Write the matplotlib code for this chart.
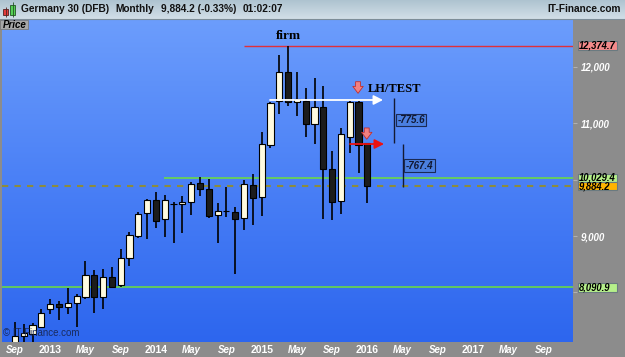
import numpy as np
import matplotlib
matplotlib.use('Agg')
import matplotlib.pyplot as plt
from matplotlib.colors import LinearSegmentedColormap
from matplotlib.patches import Rectangle
from matplotlib.transforms import blended_transform_factory

plt.rcParams['font.family'] = ['Liberation Sans', 'DejaVu Sans']

# monthly candles, Sep 2012 .. Jan 2016 (x = months from Jan 2013)
months = list(range(-4, 37))
opens = [6980, 7229, 7264, 7393, 7712, 7795, 7737, 7808, 7925, 8304, 7925, 8279, 8132, 8605,
         9006, 9403, 9638, 9296, 9570, 9562, 9597, 9934, 9833, 9367, 9445, 9431, 9314, 9904,
         9686, 10613, 11392, 11901, 11369, 11392, 10979, 11291, 10182, 9626, 10749, 11380, 10643]
highs = [7471, 7441, 7454, 7702, 7884, 7854, 8084, 7973, 8557, 8398, 8416, 8456, 8770, 9077,
         9431, 9656, 9780, 9727, 9608, 9709, 9952, 10040, 10005, 9590, 9874, 9509, 9993, 10099,
         10838, 11380, 12207, 12375, 11901, 11617, 11794, 11658, 10506, 10909, 11392, 11392, 10653]
lows = [6950, 7100, 7100, 7376, 7618, 7512, 7618, 7393, 7879, 7631, 7702, 8074, 8102, 8469,
        8960, 8947, 9137, 8988, 8882, 9059, 9372, 9714, 9325, 8882, 9342, 8327, 9107, 9195,
        9360, 10565, 11162, 11304, 11132, 10760, 10625, 9296, 9284, 9385, 10466, 10111, 9590]
closes = [7234, 7276, 7423, 7641, 7790, 7737, 7819, 7937, 8304, 7925, 8279, 8102, 8605, 9018,
          9385, 9638, 9271, 9638, 9560, 9608, 9922, 9833, 9360, 9449, 9438, 9302, 9922, 9668,
          10630, 11362, 11901, 11380, 11422, 10979, 11291, 10187, 9608, 10808, 11380, 10604, 9884.2]

tick_pos = list(range(-4, 57, 4))
tick_lab = ['Sep', '2013', 'May', 'Sep', '2014', 'May', 'Sep', '2015', 'May', 'Sep',
            '2016', 'May', 'Sep', '2017', 'May', 'Sep']

level_top = 12374.7
level_mid = 10029.4
level_last = 9884.2
level_low = 8090.9

xmin, xmax = -5.47, 59.34
ymin, ymax = 7122, 12845

fig = plt.figure(figsize=(6.25, 3.57), dpi=100, facecolor='#8c8c8c')
ax = fig.add_axes([2/625, 15/357, 571/625, 323/357])

# blue gradient background
grad = np.linspace(0, 1, 256).reshape(-1, 1)
cmap = LinearSegmentedColormap.from_list('bg', ['#2d66ee', '#4a80f6', '#6c9dfc'])
ax.imshow(grad, extent=[xmin, xmax, ymin, ymax], origin='lower', aspect='auto',
          cmap=cmap, zorder=0)

# horizontal levels
ax.hlines(level_top, 22, xmax, color='#e0303a', lw=1, zorder=1)
ax.hlines(level_mid, 12.9, xmax, color='#6ee03a', lw=1.1, zorder=1)
ax.hlines(level_low, xmin, xmax, color='#6ee03a', lw=1.1, zorder=1)
ax.hlines(level_last, xmin, xmax, color='#8c8c3c', lw=1.5, linestyles=(0, (3, 3)), zorder=1)

# candles
o = np.array(opens); c = np.array(closes)
up = c >= o
x = np.array(months)
ax.vlines(x, lows, highs, color='black', lw=1.2, zorder=2)
ax.bar(x[up], (c - o)[up], bottom=o[up], width=0.7, color='#fffbe0', edgecolor='black', lw=0.8, zorder=3)
ax.bar(x[~up], (c - o)[~up], bottom=o[~up], width=0.7, color='#1c1c1c', edgecolor='black', lw=0.8, zorder=3)

# annotations
ax.text(26.99, 12544, 'firm', ha='center', va='center', fontsize=9.5, fontweight='bold',
        family='Liberation Serif', zorder=6)
ax.text(36.07, 11610, 'LH/TEST', ha='left', va='center', fontsize=9, fontweight='bold',
        family='Liberation Serif', zorder=6)
ax.annotate('', xy=(37.78, 11410), xytext=(24.95, 11410),
            arrowprops=dict(arrowstyle='-|>,head_length=0.55,head_width=0.28', color='white',
                            lw=1.3, mutation_scale=10, shrinkA=0, shrinkB=0), zorder=6)
ax.annotate('', xy=(37.89, 10630), xytext=(34.03, 10630),
            arrowprops=dict(arrowstyle='-|>,head_length=0.55,head_width=0.28', color='#ee1111',
                            lw=1.3, mutation_scale=10, shrinkA=0, shrinkB=0), zorder=6)
for ax_x, y0, y1 in [(34.94, 11734, 11528), (35.93, 10914, 10714)]:
    ax.annotate('', xy=(ax_x, y1), xytext=(ax_x, y0),
                arrowprops=dict(arrowstyle='simple,head_width=0.75,head_length=0.5,tail_width=0.35',
                                fc='#f28080', ec='#c03030', lw=0.6, mutation_scale=10,
                                shrinkA=0, shrinkB=0), zorder=6)

# measurement lines
ax.vlines(39.03, 10653, 11440, color='#141a33', lw=1, zorder=5)
ax.vlines(40.08, 9874, 10630, color='#141a33', lw=1, zorder=5)
box = dict(boxstyle='square,pad=0.15', fc='#4a7fe0', ec='#1a2a55', lw=0.8)
ax.text(40.96, 11056, '-775.6', ha='center', va='center', fontsize=7, style='italic',
        fontweight='bold', color='#111833', bbox=box, zorder=6)
ax.text(41.94, 10249, '-767.4', ha='center', va='center', fontsize=7, style='italic',
        fontweight='bold', color='#111833', bbox=box, zorder=6)

ax.text(0.002, 0.028, '\u00a9 IT-Finance.com', transform=ax.transAxes, ha='left', va='center',
        fontsize=7, color='#1a2b5e', zorder=6)

# axes styling
ax.set_xlim(xmin, xmax)
ax.set_ylim(ymin, ymax)
for s in ax.spines.values():
    s.set_visible(False)
ax.yaxis.tick_right()
ax.set_yticks([8000, 9000, 10000, 11000, 12000])
ax.set_yticklabels(['', '9,000', '', '11,000', '12,000'])
ax.tick_params(axis='y', length=3, pad=2.7, colors='#b0b0b0', labelcolor='white', labelsize=7)
for t in ax.get_yticklabels():
    t.set_fontstyle('italic'); t.set_fontweight('bold')
ax.set_xticks(tick_pos)
ax.set_xticklabels(tick_lab)
ax.tick_params(axis='x', length=0, pad=2, labelcolor='white')
for t in ax.get_xticklabels():
    t.set_fontweight('bold')
    if t.get_text().isdigit():
        t.set_fontsize(7.5)
    else:
        t.set_fontsize(7)
        t.set_fontstyle('italic')

# value boxes on the price axis (touching like the original)
tr = blended_transform_factory(ax.transAxes, ax.transData)
box_h = 8.4 * (ymax - ymin) / 323
for val, fc, dy in [(level_top, '#f48a8a', 0), (level_mid, '#b6f08a', 10),
                    (level_last, '#ffb400', -10), (level_low, '#b6f08a', 0)]:
    ax.add_patch(Rectangle((1.0082, val - box_h / 2), 0.0694, box_h, transform=tr, fc=fc,
                           ec='#6a7a80', lw=0.8, clip_on=False, zorder=9))
    ax.text(1.011, val + dy, f'{val:,.1f}', transform=tr, ha='left', va='center', fontsize=6.85,
            style='italic', fontweight='bold', color='black', clip_on=False, zorder=10)

# header band and price tab
ov = fig.add_axes([0, 0, 1, 1], zorder=5)
ov.patch.set_visible(False)
ov.axis('off')
hcmap = LinearSegmentedColormap.from_list('hd', ['#d2dfe8', '#aec3d0'])
ov.imshow(grad[::-1], extent=(0, 625, 19, 0), aspect='auto', cmap=hcmap)
ov.hlines(19, 0, 625, color='#7d8d98', lw=0.8)
ov.add_patch(Rectangle((3, 9.3), 5, 5.7, fc='#e33b3b', ec='#552222', lw=0.6))
ov.vlines(5.5, 7, 17, color='#552222', lw=0.6)
ov.vlines(12.5, 2, 17, color='#225522', lw=0.6)
ov.add_patch(Rectangle((10, 5), 5, 10, fc='#55d055', ec='#225522', lw=0.6))
for tx, s in [(20.7, 'Germany 30 (DFB)'), (115.6, 'Monthly'), (161.4, '9,884.2 (-0.33%)'),
              (243, '01:02:07')]:
    ov.text(tx, 9.5, s, ha='left', va='center', fontsize=7.3, fontweight='bold', color='#111111')
ov.text(621, 9.5, 'IT-Finance.com', ha='right', va='center', fontsize=7.3, fontweight='bold',
        color='#111111')
ov.add_patch(Rectangle((0, 19.5), 28, 9.5, fc='#a8a8a8', ec='#7a7a7a', lw=0.6))
ov.text(3, 24.5, 'Price', ha='left', va='center', fontsize=7, style='italic', fontweight='bold')
ov.set_xlim(0, 625)
ov.set_ylim(357, 0)

fig.savefig('out.png', dpi=100, facecolor=fig.get_facecolor())
